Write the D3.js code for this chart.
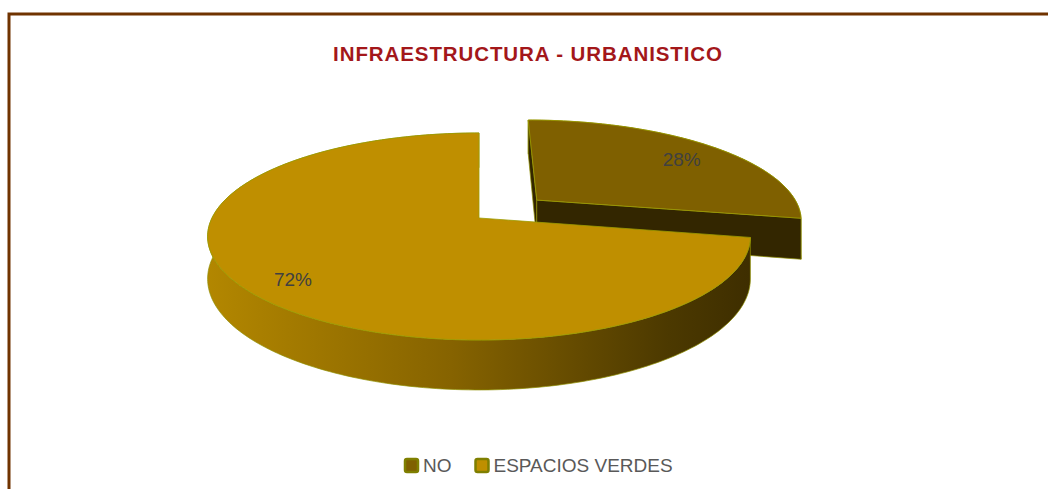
<!DOCTYPE html>
<html>
<head>
<meta charset="utf-8">
<script src="https://cdn.jsdelivr.net/npm/d3@7"></script>
<style>
	body { margin: 0; background: #fff; }
	svg { display: block; }
</style>
</head>
<body>
<div id="chart-area"></div>
<script>
// DATA
var categories = ["NO", "ESPACIOS VERDES"];
var values = [28, 72];
var explode = [0.29, 0];

// STYLES
var topColors = ["#7F6000", "#BF8F00"];
var wallColors = ["#332600", "url(#sideGrad)"];
var font = "'Liberation Sans', Arial, sans-serif";

var width = 1048, height = 489;

var svg = d3.select("#chart-area")
	.append("svg")
	.attr("width", width)
	.attr("height", height);

var grad = svg.append("defs").append("linearGradient")
	.attr("id", "sideGrad")
	.attr("gradientUnits", "userSpaceOnUse")
	.attr("x1", 206).attr("x2", 750)
	.attr("y1", 0).attr("y2", 0);
grad.selectAll("stop")
	.data([[0, "#B38700"], [0.45, "#866300"], [0.85, "#4C3900"], [1, "#3E2E00"]])
	.enter().append("stop")
	.attr("offset", function (d) { return d[0]; })
	.attr("stop-color", function (d) { return d[1]; });

// FRAME
svg.append("rect")
	.attr("x", 9).attr("y", 14)
	.attr("width", 1100).attr("height", 600)
	.attr("fill", "none")
	.attr("stroke", "#703300")
	.attr("stroke-width", 3);

// TITLE
svg.append("text")
	.attr("x", 528)
	.attr("y", 61)
	.attr("text-anchor", "middle")
	.attr("font-family", font)
	.attr("font-weight", "bold")
	.attr("font-size", "20.5px")
	.attr("letter-spacing", "0.9px")
	.attr("fill", "#A3171A")
	.text("INFRAESTRUCTURA - URBANISTICO");

// PERSPECTIVE PROJECTION OF THE PIE DISC (u to the right, v away from viewer)
var cx = 479, cy = 218, rx = 267, ry = 100.2, k = 0.1788, depth = 41;
function project(u, v, drop) {
	var s = 1 / (1 + k * v);
	return [cx + rx * u * s, cy - ry * v * s + drop * s];
}
var camera = [0, -1 / k];

var total = d3.sum(values);
var pie = d3.pie().sort(null).value(function (d) { return d; });
var slices = pie(values).map(function (d, i) {
	var mid = (d.startAngle + d.endAngle) / 2;
	d.i = i;
	d.mid = mid;
	d.ox = explode[i] * Math.sin(mid);
	d.oz = explode[i] * Math.cos(mid);
	return d;
});

function rim(d, drop) {
	var n = Math.ceil((d.endAngle - d.startAngle) / 0.02);
	return d3.range(n + 1).map(function (j) {
		var a = d.startAngle + (d.endAngle - d.startAngle) * j / n;
		return project(d.ox + Math.sin(a), d.oz + Math.cos(a), drop);
	});
}

var line = d3.line();
function closed(pts) { return line(pts) + "Z"; }

// radial wall: visible when its outward normal faces the camera
function radialWall(d, a, sign) {
	var nx = sign * Math.cos(a), nz = -sign * Math.sin(a);
	var dot = nx * (camera[0] - d.ox) + nz * (camera[1] - d.oz);
	if (dot <= 0) return null;
	var eu = d.ox + Math.sin(a), ev = d.oz + Math.cos(a);
	return closed([
		project(d.ox, d.oz, 0), project(eu, ev, 0),
		project(eu, ev, depth), project(d.ox, d.oz, depth)
	]);
}

// BACK SLICES FIRST
var order = slices.slice().sort(function (a, b) {
	return (b.oz + Math.cos(b.mid)) - (a.oz + Math.cos(a.mid));
});

var g = svg.append("g");
order.forEach(function (d) {
	var sg = g.append("g");
	var topRim = rim(d, 0);
	var botRim = rim(d, depth).reverse();

	sg.append("path")
		.attr("d", closed(topRim.concat(botRim)))
		.attr("fill", wallColors[d.i])
		.attr("stroke", "#8F8F00")
		.attr("stroke-width", 0.7);

	[[d.startAngle, -1], [d.endAngle, 1]].forEach(function (w) {
		var p = radialWall(d, w[0], w[1]);
		if (p) {
			sg.append("path")
				.attr("d", p)
				.attr("fill", "#332600")
				.attr("stroke", "#8F8F00")
				.attr("stroke-width", 0.7);
		}
	});

	sg.append("path")
		.attr("d", closed([project(d.ox, d.oz, 0)].concat(topRim)))
		.attr("fill", topColors[d.i])
		.attr("stroke", "#9C9C00")
		.attr("stroke-width", 0.8);
});

// DATA LABELS
svg.selectAll(".label")
	.data(slices)
	.enter().append("text")
	.attr("class", "label")
	.attr("transform", function (d) {
		var p = project(d.ox + 0.82 * Math.sin(d.mid), d.oz + 0.82 * Math.cos(d.mid), 0);
		return "translate(" + p[0] + "," + p[1] + ")";
	})
	.attr("dy", "0.55em")
	.attr("text-anchor", "middle")
	.attr("font-family", font)
	.attr("font-size", "19px")
	.attr("fill", "#404040")
	.text(function (d) { return Math.round(d.data / total * 100) + "%"; });

// LEGEND
var legend = svg.append("g");
var lx = 404;
categories.forEach(function (c, i) {
	var item = legend.append("g").attr("transform", "translate(" + lx + ",0)");
	item.append("rect")
		.attr("x", 1).attr("y", 459)
		.attr("width", 13).attr("height", 13)
		.attr("rx", 2)
		.attr("fill", topColors[i])
		.attr("stroke", "#7F7F00")
		.attr("stroke-width", 2.5);
	var t = item.append("text")
		.attr("x", 19)
		.attr("y", 472)
		.attr("font-family", font)
		.attr("font-size", "19px")
		.attr("fill", "#595959")
		.text(c);
	lx += 19 + t.node().getComputedTextLength() + 23;
});
</script>
</body>
</html>
